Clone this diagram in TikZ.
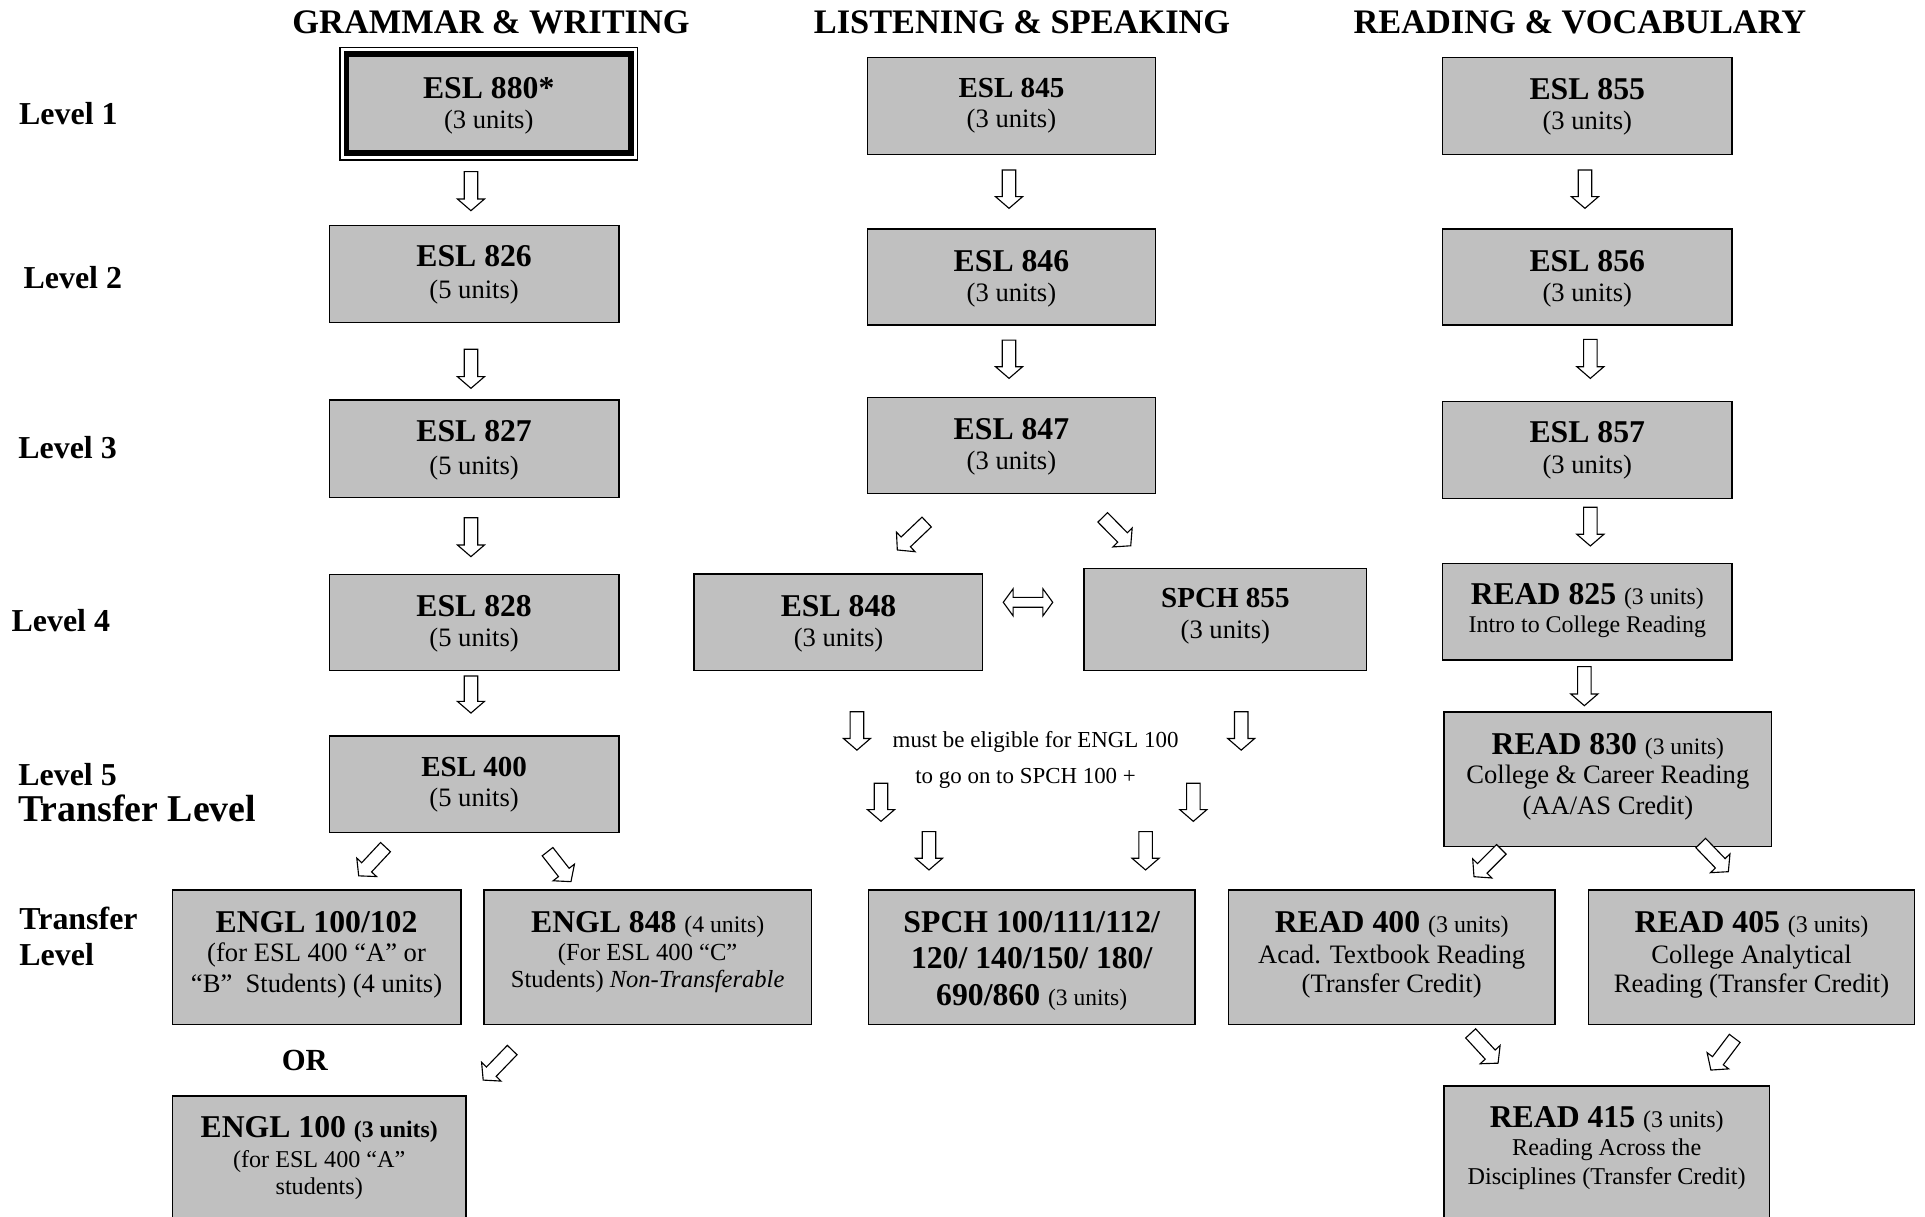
\documentclass[tikz,border=0pt]{standalone}
\usepackage{fontspec}
\setmainfont{Liberation Serif}
\usetikzlibrary{fit}
\definecolor{boxgray}{HTML}{C0C0C0}
\newcommand\fz[1]{\fontsize{#1}{#1}\selectfont}
% block arrow: #1 x, #2 y (tail centre), #3 angle, #4 length
\newcommand\barrow[4]{%
  \draw[blk, shift={(#1,#2)}, rotate=#3] (0,-5.5) -- ({#4-9.5},-5.5) -- ({#4-9.5},-11) -- (#4,0)
    -- ({#4-9.5},11) -- ({#4-9.5},5.5) -- (0,5.5) -- cycle;}
\begin{document}
\begin{tikzpicture}[x=0.6pt,y=-0.6pt,
  box/.style={draw=black, line width=0.75pt, fill=boxgray, inner sep=0pt},
  tl/.style={anchor=base, inner sep=0pt, font=\bfseries\fz{15.5pt}},
  tls/.style={anchor=base, inner sep=0pt, font=\bfseries\fz{14.2pt}},
  sub/.style={anchor=base, inner sep=0pt, font=\fz{13pt}},
  subs/.style={anchor=base, inner sep=0pt, font=\fz{11.8pt}},
  lvl/.style={anchor=base west, inner sep=0pt, font=\bfseries\fz{15.6pt}},
  hdr/.style={anchor=base, inner sep=0pt, font=\bfseries\fz{16.8pt}},
  blk/.style={draw=black, line width=0.55pt, fill=white, line join=miter}]
\useasboundingbox (0,0) rectangle (1568,990.5);
\clip (0,0) rectangle (1568,990.5);

% headers
\node[hdr] (h1) at (400,27.2) {GRAMMAR \& WRITING};
\node[hdr] (h2) at (832.5,27.2) {LISTENING \& SPEAKING};
\node[hdr] (h3) at (1286.9,27.2) {READING \& VOCABULARY};

% level labels
\node[lvl] (l1) at (15.3,101.8) {Level 1};
\node[lvl] (l2) at (18.9,234.8) {Level 2};
\node[lvl] (l3) at (14.6,373.3) {Level 3};
\node[lvl] (l4) at (9.1,514.5) {Level 4};
\node[lvl] (l5) at (14.6,639.4) {Level 5};
\node[lvl, font=\bfseries\fz{18.5pt}] (l5t) at (14.6,669.3) {Transfer Level};
\node[lvl] (lt1) at (15.5,757.5) {Transfer};
\node[lvl] (lt2) at (15.5,786.8) {Level};

% ---------- boxes ----------
\node[draw=black, line width=0.7pt, inner sep=0pt, fit={(276.9,38.5) (519.3,130.3)}] (b880o) {};
\node[box, line width=2.7pt, fit={(282.4,44) (513.8,124.8)}] (b880) {};
\node[box, fit={(268.4,183.8) (504,262.5)}] (b826) {};
\node[box, fit={(268.4,325.8) (504,405.1)}] (b827) {};
\node[box, fit={(268.4,467.8) (504,546.3)}] (b828) {};
\node[box, fit={(268.4,599.5) (504,678)}] (b400) {};
\node[box, fit={(140.4,725) (375.3,834.3)}] (bE102) {};
\node[box, fit={(394.2,725) (660.9,834.3)}] (bE848) {};
\node[box, fit={(140.4,892.7) (379.7,1005)}] (bE100) {};

\node[box, fit={(706.6,47) (941.1,125.7)}] (b845) {};
\node[box, fit={(706.6,186.5) (941.1,264.7)}] (b846) {};
\node[box, fit={(706.6,323.9) (941.1,401.8)}] (b847) {};
\node[box, fit={(565.5,467.6) (800.4,546.3)}] (b848) {};
\node[box, fit={(883,463.2) (1113.2,546.3)}] (bS855) {};
\node[box, fit={(707.4,725) (973.3,834.3)}] (bS100) {};

\node[box, fit={(1175,47) (1410.8,125.7)}] (b855) {};
\node[box, fit={(1175,186.5) (1410.8,264.7)}] (b856) {};
\node[box, fit={(1175,327.2) (1410.8,405.9)}] (b857) {};
\node[box, fit={(1175,458.9) (1410.8,537.6)}] (bR825) {};
\node[box, fit={(1176.2,580) (1443.1,689.6)}] (bR830) {};
\node[box, fit={(1000.7,725) (1266.4,834.3)}] (bR400) {};
\node[box, fit={(1293.8,725) (1559.6,834.3)}] (bR405) {};
\node[box, fit={(1176,884.6) (1441.4,1005)}] (bR415) {};

% ---------- box texts ----------
\node[tl] (t880a) at (398.1,80) {ESL 880*};
\node[sub] (t880b) at (398.1,105) {(3 units)};
\node[tl] (t826a) at (386.2,217.2) {ESL 826};
\node[sub] (t826b) at (386.2,243) {(5 units)};
\node[tl] (t827a) at (386.2,359.3) {ESL 827};
\node[sub] (t827b) at (386.2,386.6) {(5 units)};
\node[tl] (t828a) at (386.2,501.8) {ESL 828};
\node[sub] (t828b) at (386.2,526.5) {(5 units)};
\node[tls] (t400a) at (386.2,632.1) {ESL 400};
\node[sub] (t400b) at (386.2,656.8) {(5 units)};

\node[tl] (tE102a) at (257.85,759.2) {ENGL 100/102};
\node[sub] (tE102b) at (257.85,783) {(for ESL 400 “A” or};
\node[sub] (tE102c) at (257.85,808.8) {“B”\ \ Students) (4 units)};
\node[tl] (tE848a) at (527.55,759.2) {ENGL 848 {\mdseries\fz{11.6pt}(4 units)}};
\node[sub, font=\fz{12pt}] (tE848b) at (527.55,782.5) {(For ESL 400 “C”};
\node[sub, font=\fz{12pt}] (tE848c) at (527.55,804.2) {Students) \textit{Non-Transferable}};
\node[tl, font=\bfseries\fz{15pt}] (tOR) at (248.3,871.6) {OR};
\node[tl] (tE100a) at (260,926.8) {ENGL 100 {\fz{11.6pt}(3 units)}};
\node[subs] (tE100b) at (260,950.9) {(for ESL 400 “A”};
\node[subs] (tE100c) at (260,972.6) {students)};

\node[tls] (t845a) at (823.85,79.1) {ESL 845};
\node[sub] (t845b) at (823.85,104.2) {(3 units)};
\node[tl] (t846a) at (823.85,220.8) {ESL 846};
\node[sub] (t846b) at (823.85,245.4) {(3 units)};
\node[tl] (t847a) at (823.85,357.9) {ESL 847};
\node[sub] (t847b) at (823.85,382.5) {(3 units)};
\node[tl] (t848a) at (683,501.8) {ESL 848};
\node[sub] (t848b) at (683,526.5) {(3 units)};
\node[tls] (tS855a) at (998.1,494.5) {SPCH 855};
\node[sub] (tS855b) at (998.1,519.7) {(3 units)};
\node[anchor=base, inner sep=0pt, font=\fz{11.2pt}] (tm1) at (843.5,608.5) {must be eligible for ENGL 100};
\node[anchor=base, inner sep=0pt, font=\fz{11.2pt}] (tm2) at (835.4,638.5) {to go on to SPCH 100 +};
\node[tl] (tS100a) at (840.35,759.2) {SPCH 100/111/112/};
\node[tl] (tS100b) at (840.35,789.1) {120/ 140/150/ 180/};
\node[tl] (tS100c) at (840.35,819) {690/860 {\mdseries\fz{11.5pt}(3 units)}};

\node[tl] (t855a) at (1292.9,81) {ESL 855};
\node[sub] (t855b) at (1292.9,105.6) {(3 units)};
\node[tl] (t856a) at (1292.9,220.8) {ESL 856};
\node[sub] (t856b) at (1292.9,245.4) {(3 units)};
\node[tl] (t857a) at (1292.9,360.6) {ESL 857};
\node[sub] (t857b) at (1292.9,385.3) {(3 units)};
\node[tl] (tR825a) at (1292.9,492) {READ 825 {\mdseries\fz{11.6pt}(3 units)}};
\node[subs, font=\fz{11.7pt}] (tR825b) at (1292.9,515.1) {Intro to College Reading};
\node[tl] (tR830a) at (1309.65,614.5) {READ 830 {\mdseries\fz{11.5pt}(3 units)}};
\node[sub] (tR830b) at (1309.65,637.8) {College \& Career Reading};
\node[sub] (tR830c) at (1309.65,663.5) {(AA/AS Credit)};
\node[tl] (tR400a) at (1133.55,759.2) {READ 400 {\mdseries\fz{11.7pt}(3 units)}};
\node[sub] (tR400b) at (1133.55,784.4) {Acad. Textbook Reading};
\node[sub] (tR400c) at (1133.55,808.8) {(Transfer Credit)};
\node[tl] (tR405a) at (1426.7,759.2) {READ 405 {\mdseries\fz{11.7pt}(3 units)}};
\node[sub] (tR405b) at (1426.7,784.4) {College Analytical};
\node[sub] (tR405c) at (1426.7,808.8) {Reading (Transfer Credit)};
\node[tl] (tR415a) at (1308.7,918.1) {READ 415 {\mdseries\fz{11.7pt}(3 units)}};
\node[subs] (tR415b) at (1308.7,941.3) {Reading Across the};
\node[subs] (tR415c) at (1308.7,964.4) {Disciplines (Transfer Credit)};

% ---------- block arrows ----------
\barrow{383.6}{139.8}{-90}{31.8}
\barrow{383.6}{284.5}{-90}{31.8}
\barrow{383.6}{421.7}{-90}{31.7}
\barrow{383.6}{550.6}{-90}{30.2}
\barrow{821.9}{138.5}{-90}{31.2}
\barrow{821.9}{277}{-90}{31.2}
\barrow{1291}{138.5}{-90}{31.2}
\barrow{1295.4}{276.4}{-90}{31.8}
\barrow{1295.4}{413.2}{-90}{31.5}
\barrow{1290.5}{543}{-90}{31.8}
\barrow{698}{579.7}{-90}{31.3}
\barrow{1011}{579.7}{-90}{31.3}
\barrow{717.6}{638}{-90}{31}
\barrow{972}{638}{-90}{31}
\barrow{756.7}{677.4}{-90}{31.2}
\barrow{933.1}{677.4}{-90}{31.2}
% diagonal arrows
\barrow{754.8}{425.2}{223.6}{33}
\barrow{898.2}{421.4}{-45.4}{32.5}
\barrow{314}{690}{227}{32}
\barrow{446}{693.7}{-52}{31}
\barrow{417.2}{855.3}{226}{34}
\barrow{1222.9}{691.8}{225}{31.5}
\barrow{1385.3}{686.7}{-46}{32.4}
\barrow{1197.9}{841.7}{-47.4}{33}
\barrow{1413}{845.8}{233}{32.3}
% double arrow between ESL 848 and SPCH 855
\draw[blk] (817.2,490.6) -- (825.2,479.6) -- (825.2,486.6) -- (849.5,486.6) -- (849.5,479.6)
  -- (857.5,490.6) -- (849.5,501.6) -- (849.5,494.6) -- (825.2,494.6) -- (825.2,501.6) -- cycle;
\end{tikzpicture}
\end{document}
